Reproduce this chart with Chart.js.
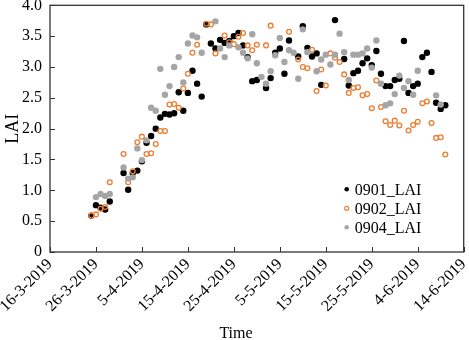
<!DOCTYPE html>
<html>
<head>
<meta charset="utf-8">
<script src="https://cdn.jsdelivr.net/npm/chart.js@4.4.1/dist/chart.umd.min.js"></script>
<style>
  body { margin: 0; background: #fff; }
  #wrap { width: 469px; height: 340px; }
</style>
</head>
<body>
<div id="wrap"><canvas id="laiChart" width="469" height="340"></canvas></div>
<script>
// Observation days, counted from 16-3-2019 (day 0)
const days = [9, 10, 11, 12, 13, 16, 17, 18, 19, 20, 21, 22, 23, 24, 25, 26, 27, 28, 29, 30,
  31, 32, 33, 34, 35, 36, 37, 38, 39, 40, 41, 42, 43, 44, 45, 46, 47, 48, 49, 50,
  51, 52, 53, 54, 55, 56, 57, 58, 59, 60, 61, 62, 63, 64, 65, 66, 67, 68, 69, 70,
  71, 72, 73, 74, 75, 76, 77, 78, 79, 80, 81, 82, 83, 84, 85, 86];

// LAI per plot (null = no measurement that day)
const lai0901 = [0.59, 0.76, 0.72, 0.69, 0.82, 1.28, 1.01, 1.28, 1.32, 1.47, 1.77, 1.88, 2.00, 2.18, 2.24, 2.23, 2.25, 2.59, 2.29, 2.58,
  2.94, 2.73, 2.52, 3.69, 3.38, 3.30, 3.44, 3.39, 3.42, 3.50, 3.55, 3.35, 3.16, 2.77, 2.79, null, 2.66, 2.82, 3.23, 3.30,
  2.89, 3.43, null, 3.17, 3.66, 3.31, 3.17, 3.22, 2.71, null, null, 3.76, null, 3.13, 2.70, 2.90, 2.94, 3.06, 3.14, 3.03,
  3.26, 2.89, 2.69, 2.69, 2.79, 2.81, 3.42, 2.58, 2.69, 2.73, 3.16, 3.23, 2.92, 2.42, 2.32, 2.38];

const lai0902 = [0.59, 0.61, 0.70, 0.73, 1.13, 1.59, 1.13, 1.31, 1.78, 1.87, 1.59, 1.60, 1.75, 1.96, 1.96, 2.39, 2.40, 2.34, 2.65, 2.89,
  3.23, 3.36, null, 3.70, 3.69, 3.22, null, 3.51, 3.40, 3.37, 3.49, 3.55, 3.35, 3.27, 3.36, null, 3.35, 3.67, null, null,
  null, 3.57, null, 3.12, 3.00, 2.98, 3.28, 2.61, 2.96, 2.70, 3.22, 3.15, 3.08, 2.88, 2.58, 2.66, 2.67, 2.54, 2.56, 2.33,
  2.78, 2.35, 2.12, 2.06, 2.13, 2.05, 2.29, 1.97, 2.06, 2.11, 2.41, 2.44, 2.09, 1.85, 1.86, 1.58];

const lai0904 = [null, 0.89, 0.94, 0.91, 0.94, 1.37, 1.19, 1.21, 1.68, 1.49, 1.81, 2.34, 2.29, 2.97, 2.55, 2.69, 3.00, 3.16, 2.75, 3.38,
  3.51, 3.48, 3.23, null, null, 3.74, 3.30, 3.16, 3.35, null, 3.32, 3.23, 3.14, 3.53, 3.06, 2.84, 2.73, 2.93, 3.19, 3.47,
  3.08, 3.27, 3.23, 2.81, 3.61, 3.24, null, 2.93, 3.12, 3.20, 3.04, 3.20, 3.54, 3.24, 2.79, 3.20, 3.20, 3.22, 3.30, 2.99,
  3.43, 2.73, 2.38, 2.41, 2.56, 2.86, 2.66, 2.77, 2.55, 2.94, null, null, null, 2.54, 2.39, null];

const seriesNames = ['0901_LAI', '0902_LAI', '0904_LAI'];
const startDate = new Date(2019, 2, 16);

const serif = '"Liberation Serif", "Times New Roman", serif';

function toPoints(values) {
  const pts = [];
  values.forEach((v, i) => {
    if (v !== null) pts.push({ x: days[i], y: v });
  });
  return pts;
}

function dayLabel(v) {
  const d = new Date(startDate.getFullYear(), startDate.getMonth(), startDate.getDate() + v);
  return d.getDate() + '-' + (d.getMonth() + 1) + '-' + d.getFullYear();
}

// Box round the plot, inward tick marks and the x axis name
const frame = {
  id: 'frame',
  afterDatasetsDraw(chart) {
    const { ctx, chartArea: a, scales } = chart;
    ctx.save();
    ctx.strokeStyle = '#333';
    ctx.lineWidth = 1.3;
    ctx.strokeRect(a.left, a.top, a.right - a.left, a.bottom - a.top);
    ctx.lineWidth = 1;
    ctx.beginPath();
    scales.x.ticks.forEach(t => {
      const px = Math.round(scales.x.getPixelForValue(t.value)) + 0.5;
      ctx.moveTo(px, a.bottom);
      ctx.lineTo(px, a.bottom - 5);
    });
    scales.y.ticks.forEach(t => {
      const py = Math.round(scales.y.getPixelForValue(t.value)) + 0.5;
      ctx.moveTo(a.left, py);
      ctx.lineTo(a.left + 5, py);
    });
    ctx.stroke();

    // "Time" sits a little left of the plot centre
    ctx.font = '16px ' + serif;
    ctx.fillStyle = '#000';
    ctx.textAlign = 'center';
    ctx.textBaseline = 'alphabetic';
    ctx.fillText('Time', a.left + 186, chart.height - 2);
    ctx.restore();
  }
};

// Legend sitting inside the plot, lower right
const insideLegend = {
  id: 'insideLegend',
  afterDraw(chart) {
    const { ctx, chartArea: a } = chart;
    const x = a.right - 117;
    const y0 = a.top + 184;
    ctx.save();
    ctx.font = '16px ' + serif;
    ctx.textBaseline = 'middle';
    ctx.fillStyle = '#000';
    chart.data.datasets.forEach((ds, i) => {
      const y = y0 + i * 19;
      ctx.beginPath();
      ctx.arc(x, y, i === 1 ? 2 : 2.3, 0, Math.PI * 2);
      if (i === 1) {
        ctx.strokeStyle = ds.borderColor;
        ctx.lineWidth = 1.2;
        ctx.stroke();
      } else {
        ctx.fillStyle = ds.backgroundColor;
        ctx.fill();
      }
      ctx.fillStyle = '#000';
      ctx.fillText(ds.label, x + 8, y + 1);
    });
    ctx.restore();
  }
};

new Chart(document.getElementById('laiChart'), {
  type: 'scatter',
  data: {
    datasets: [
      { label: seriesNames[0], data: toPoints(lai0901), backgroundColor: '#000', borderWidth: 0, pointRadius: 3.2, order: 3 },
      { label: seriesNames[1], data: toPoints(lai0902), backgroundColor: 'rgba(0,0,0,0)', borderColor: '#ED7D31', borderWidth: 1.3, pointRadius: 2.4, order: 2 },
      { label: seriesNames[2], data: toPoints(lai0904), backgroundColor: '#A5A5A5', borderWidth: 0, pointRadius: 3.2, order: 1 }
    ]
  },
  options: {
    responsive: false,
    animation: false,
    layout: { padding: { top: 5, right: 3, left: 0, bottom: 0 } },
    plugins: { legend: { display: false }, tooltip: { enabled: false } },
    scales: {
      x: {
        type: 'linear',
        min: 0,
        max: 90,
        grid: { display: false, drawTicks: false },
        border: { display: false },
        ticks: {
          stepSize: 10,
          autoSkip: false,
          minRotation: 45,
          maxRotation: 45,
          padding: 3,
          color: '#000',
          font: { family: serif, size: 16 },
          callback: dayLabel
        },
        afterFit: s => { s.height = 88; s.paddingLeft = 0; s.paddingRight = 0; }
      },
      y: {
        min: 0,
        max: 4,
        grid: { display: false, drawTicks: false },
        border: { display: false },
        ticks: {
          stepSize: 0.5,
          padding: 8,
          color: '#000',
          font: { family: serif, size: 16 },
          callback: v => v === 0 ? '0' : v.toFixed(1)
        },
        title: { display: true, text: 'LAI', color: '#000', font: { family: serif, size: 18 }, padding: { top: 2, bottom: 4 } },
        afterFit: s => { s.width = 50; s.paddingTop = 0; s.paddingBottom = 0; }
      }
    }
  },
  plugins: [frame, insideLegend]
});
</script>
</body>
</html>
